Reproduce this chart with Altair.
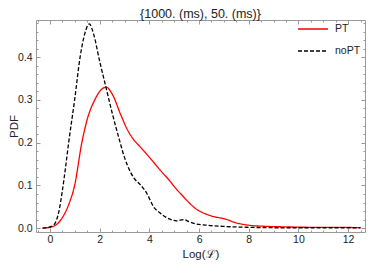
import altair as alt
import pandas as pd

series_names = ["PT", "noPT"]
plot_title = "{1000. (ms), 50. (ms)}"

pt_x = [-0.3, 0.0, 0.25, 0.49, 0.75, 0.99, 1.28, 1.5, 1.8, 2.0, 2.26, 2.5, 2.85, 3.1, 3.38,
        3.6, 3.91, 4.2, 4.43, 4.8, 5.09, 5.3, 5.49, 5.88, 6.28, 6.6, 7.07, 7.46, 7.99, 8.78,
        9.5, 10.5, 11.5, 12.5]
pt_y = [0.0, 0.002, 0.008, 0.024, 0.055, 0.1, 0.2, 0.255, 0.3, 0.32, 0.33, 0.314, 0.265,
        0.232, 0.206, 0.192, 0.172, 0.152, 0.136, 0.112, 0.091, 0.078, 0.066, 0.045, 0.033,
        0.027, 0.021, 0.013, 0.007, 0.004, 0.003, 0.002, 0.002, 0.001]

nopt_x = [-0.3, 0.0, 0.16, 0.36, 0.49, 0.62, 0.75, 0.99, 1.21, 1.4, 1.58, 1.75, 2.0, 2.25,
          2.5, 2.79, 3.0, 3.24, 3.38, 3.63, 3.91, 4.17, 4.42, 4.83, 5.09, 5.38, 5.6, 5.88,
          6.28, 7.0, 8.0, 9.0, 10.0, 11.0, 12.5]
nopt_y = [0.0, 0.003, 0.008, 0.04, 0.085, 0.14, 0.2, 0.3, 0.4, 0.455, 0.478, 0.455, 0.39,
          0.33, 0.27, 0.207, 0.165, 0.131, 0.117, 0.102, 0.08, 0.05, 0.036, 0.021, 0.017,
          0.02, 0.015, 0.01, 0.007, 0.004, 0.002, 0.001, 0.001, 0.001, 0.001]

x_major = [0, 2, 4, 6, 8, 10, 12]
x_minor = [-0.5, 0, 0.5, 1, 1.5, 2, 2.5, 3, 3.5, 4, 4.5, 5, 5.5, 6, 6.5, 7, 7.5, 8, 8.5,
           9, 9.5, 10, 10.5, 11, 11.5, 12, 12.5]
y_major = [0.0, 0.1, 0.2, 0.3, 0.4]
y_minor = [0.0, 0.02, 0.04, 0.06, 0.08, 0.1, 0.12, 0.14, 0.16, 0.18, 0.2, 0.22, 0.24,
           0.26, 0.28, 0.3, 0.32, 0.34, 0.36, 0.38, 0.4, 0.42, 0.44, 0.46, 0.48]

df = pd.concat([
    pd.DataFrame({"x": pt_x, "y": pt_y, "series": series_names[0], "o": range(len(pt_x))}),
    pd.DataFrame({"x": nopt_x, "y": nopt_y, "series": series_names[1], "o": range(len(nopt_x))}),
])

FONT = "Liberation Sans"
TICK = "#999999"
LABEL = "#222222"
W, H = 329, 212

xs = alt.Scale(domain=[-0.565, 12.68], nice=False, zero=False)
ys = alt.Scale(domain=[-0.009, 0.487], nice=False, zero=False)


def axis(orient, values, size, labels=False, title=None, fmt=None, **extra):
    kw = dict(orient=orient, values=values, tickSize=size, offset=-size, labels=labels,
              domain=False, grid=False, ticks=True, tickColor=TICK, tickWidth=1,
              title=title)
    if labels:
        kw.update(labelFont=FONT, labelFontSize=10.5, labelColor=LABEL,
                  labelFlush=False, labelOverlap=False, format=fmt)
    if title:
        kw.update(titleFont=FONT, titleFontSize=11.5, titleFontWeight="normal",
                  titleColor=LABEL)
    kw.update(extra)
    return alt.Axis(**kw)


legend = alt.Legend(title=None, orient="none", legendX=261, legendY=-7,
                    symbolType="stroke", symbolSize=900, symbolStrokeWidth=1.3,
                    labelFont=FONT, labelFontSize=10.5, labelColor=LABEL,
                    rowPadding=-1, labelOffset=6)

base = alt.Chart(df)

main = base.mark_line(interpolate="monotone", strokeWidth=1.3).encode(
    x=alt.X("x:Q", scale=xs,
            axis=axis("bottom", x_major, 4, True, "Log(ℒ)", "d",
                      labelPadding=2, titleX=W / 2, titleY=29.5,
                      titleBaseline="alphabetic", titleAlign="center")),
    y=alt.Y("y:Q", scale=ys,
            axis=axis("left", y_major, 4, True, "PDF", ".1f",
                      labelPadding=4, titleX=-23, titleY=H / 2, titleAngle=270,
                      titleBaseline="alphabetic", titleAlign="center")),
    color=alt.Color("series:N", scale=alt.Scale(domain=series_names,
                                                range=["#ff0000", "#000000"]),
                    legend=legend),
    strokeDash=alt.StrokeDash("series:N", scale=alt.Scale(domain=series_names,
                                                          range=[[1, 0], [4, 2]]),
                              legend=legend),
    order="o:Q",
)

top_right = base.mark_line(opacity=0).encode(
    x=alt.X("x:Q", scale=xs, axis=axis("top", x_major, 4)),
    y=alt.Y("y:Q", scale=ys, axis=axis("right", y_major, 4)),
    detail="series:N",
)
minor_bl = base.mark_line(opacity=0).encode(
    x=alt.X("x:Q", scale=xs, axis=axis("bottom", x_minor, 2)),
    y=alt.Y("y:Q", scale=ys, axis=axis("left", y_minor, 2)),
    detail="series:N",
)
minor_tr = base.mark_line(opacity=0).encode(
    x=alt.X("x:Q", scale=xs, axis=axis("top", x_minor, 2)),
    y=alt.Y("y:Q", scale=ys, axis=axis("right", y_minor, 2)),
    detail="series:N",
)

title_text = alt.Chart(pd.DataFrame({"t": [plot_title]})).mark_text(
    font=FONT, fontSize=12.5, color=LABEL, baseline="alphabetic", align="center"
).encode(text="t:N", x=alt.value(W / 2), y=alt.value(-2.5))

chart = alt.layer(main, top_right, minor_bl, minor_tr, title_text).resolve_axis(
    x="independent", y="independent"
).properties(
    width=W, height=H,
    autosize=alt.AutoSizeParams(type="none"),
    padding={"left": 28, "top": 12, "right": 1, "bottom": 29},
).configure_view(stroke="#999999", strokeWidth=1)

chart.save("out.html", embed_options={"renderer": "svg", "actions": False})
